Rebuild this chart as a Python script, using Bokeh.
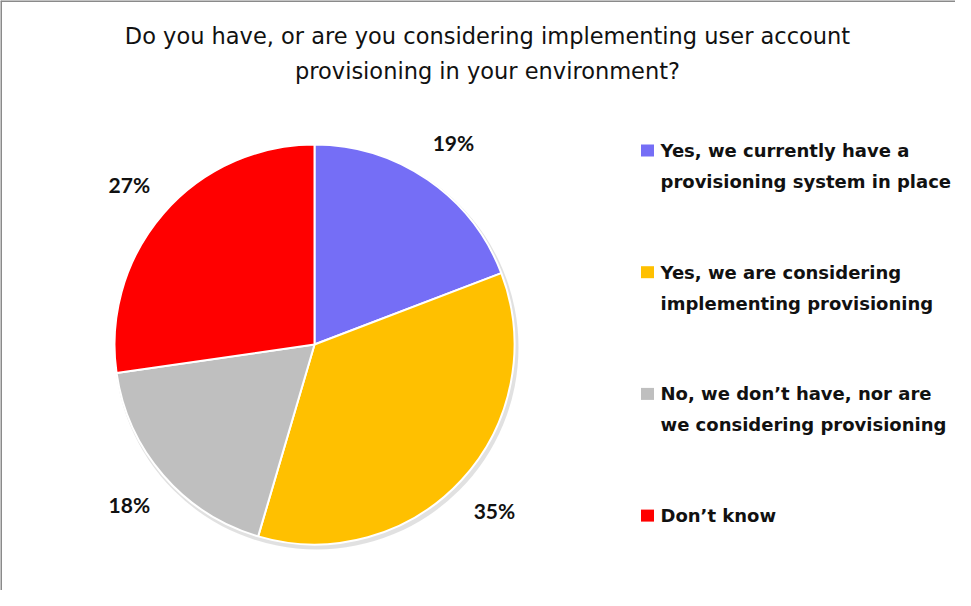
import math
from bokeh.plotting import figure
from bokeh.models import Range1d, ColumnDataSource, Span
from bokeh.core.properties import value
from bokeh.embed import file_html
from bokeh.resources import INLINE

# ---- data ----
title_lines = ["Do you have, or are you considering implementing user account",
               "provisioning in your environment?"]
categories = ["Yes, we currently have a\nprovisioning system in place",
              "Yes, we are considering\nimplementing provisioning",
              "No, we don\u2019t have, nor are\nwe considering provisioning",
              "Don\u2019t know"]
values = [19, 35, 18, 27]
pct_labels = ["19%", "35%", "18%", "27%"]
colors = ["#756EF6", "#FFC000", "#BFBFBF", "#FF0000"]

W, H = 955, 590
OX, OY = 8, 8  # page offset


def px(x):
    return x - OX


def py(y):
    return H - (y - OY)


p = figure(width=W, height=H, output_backend="svg", toolbar_location=None,
           x_range=Range1d(0, W), y_range=Range1d(0, H), min_border=0,
           outline_line_color=None, background_fill_color="white")
p.axis.visible = False
p.grid.visible = False

# frame border (left & top)
p.add_layout(Span(location=0.5, dimension="height", line_color="#8A8A8A", line_width=2))
p.add_layout(Span(location=H - 0.5, dimension="width", line_color="#8A8A8A", line_width=2))

# pie geometry
cx, cy, R = px(322), py(352), 200
total = sum(values)
starts, ends, mids = [], [], []
acc = 0.0
for v in values:
    a0 = acc / total * 2 * math.pi
    acc += v
    a1 = acc / total * 2 * math.pi
    starts.append(math.pi / 2 - a0)
    ends.append(math.pi / 2 - a1)
    mids.append(math.pi / 2 - (a0 + a1) / 2)

# shadow
p.circle(x=[cx + 2], y=[cy - 3], radius=R + 2, fill_color="#9A9A9A", fill_alpha=0.3,
         line_color=None)

src = ColumnDataSource(dict(x=[cx] * 4, y=[cy] * 4, start=starts, end=ends, color=colors))
p.wedge(x="x", y="y", radius=R, start_angle="start", end_angle="end", direction="clock",
        fill_color="color", line_color="white", line_width=2, source=src)

# percent labels
LR = 245
lx = [cx + LR * math.cos(m) for m in mids]
ly = [cy + LR * math.sin(m) for m in mids]
p.text(x=lx, y=ly, text=pct_labels, text_align="center", text_baseline="middle",
       text_font=value("Lato"), text_font_size="21px", text_font_style="bold",
       text_color="#111111")

# title
p.text(x=[px(495)] * 2, y=[py(43), py(78)], text=title_lines, text_align="center",
       text_baseline="middle", text_font=value("DejaVu Sans"), text_font_size="22.5px",
       text_color="#111111")

# legend
n = len(categories)
sq_y = [158 + 121.7 * i for i in range(n)]
p.rect(x=[px(655)] * n, y=[py(s) for s in sq_y], width=13, height=12,
       fill_color=colors, line_color=None)
tx, ty, tt = [], [], []
for s, cat in zip(sq_y, categories):
    for j, line in enumerate(cat.split("\n")):
        tx.append(px(668))
        ty.append(py(s + 31 * j))
        tt.append(line)
p.text(x=tx, y=ty, text=tt, text_align="left", text_baseline="middle",
       text_font=value("DejaVu Sans"), text_font_size="18px", text_font_style="bold",
       text_color="#111111")

html = file_html(p, INLINE)
open("out.html", "w").write(html)
